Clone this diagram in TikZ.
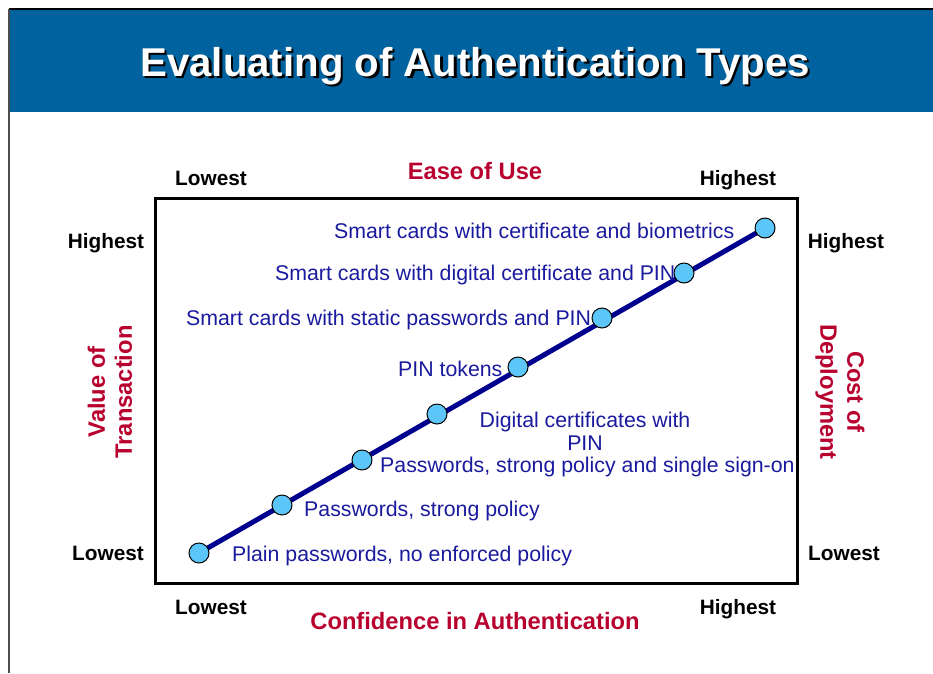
\documentclass[tikz,border=0pt]{standalone}
\usepackage{fontspec}
\setmainfont{Liberation Sans}
\definecolor{headblue}{HTML}{00629E}
\definecolor{axisred}{HTML}{B8002E}
\definecolor{itemblue}{HTML}{1A1A9E}
\definecolor{linenavy}{HTML}{00008F}
\definecolor{dotblue}{HTML}{5CC6F8}
\newcommand{\shadowtext}[1]{\makebox[0pt][l]{\hspace{2.5pt}\raisebox{-2.5pt}{\color{black}#1}}#1}
\tikzset{
  item/.style={anchor=west, inner sep=0pt, text=itemblue, font=\fontsize{21.3}{23}\selectfont},
  axis/.style={inner sep=0pt, text=axisred, font=\fontsize{23.7}{27}\selectfont\bfseries, align=center},
  level/.style={anchor=base, inner sep=0pt, font=\fontsize{20.8}{24}\selectfont\bfseries},
  dot/.style={circle, draw=black, line width=1pt, fill=dotblue, minimum size=20pt, inner sep=0pt},
  trend/.style={draw=linenavy, line width=5pt},
  frame/.style={draw=black, line width=3pt}
}
\begin{document}
\begin{tikzpicture}[x=1pt,y=-1pt]
\useasboundingbox (0,0) rectangle (933,673);
% header band and page edges
\fill[headblue] (9,9) rectangle (933,112);
\draw[black, line width=1.2pt] (9,9) -- (933,9);
\draw[black!70, line width=1.5pt] (9,9) -- (9,673);
\node[anchor=base, inner sep=0pt, text=white, font=\fontsize{40.2}{44}\selectfont\bfseries] (title) at (475,76) {\shadowtext{Evaluating of Authentication Types}};
% chart frame
\draw[frame] (155,198) rectangle (797,583);
% axis titles
\node[axis] (ease) at (475,171) {Ease of Use};
\node[axis] (conf) at (475,621) {Confidence in Authentication};
\node[axis, rotate=90] (value) at (110,392) {Value of\\Transaction};
\node[axis, rotate=-90] (cost) at (840,392) {Cost of\\Deployment};
% scale ends
\node[level] (tl) at (211,185.5) {Lowest};
\node[level] (tr) at (738,185.5) {Highest};
\node[level] (lh) at (106,248.5) {Highest};
\node[level] (ll) at (108,560.5) {Lowest};
\node[level] (rh) at (846,248.5) {Highest};
\node[level] (rl) at (844,560.5) {Lowest};
\node[level] (bl) at (211,614.5) {Lowest};
\node[level] (br) at (738,614.5) {Highest};
% trend line through the authentication types
\coordinate (p1) at (199,553);
\coordinate (p2) at (282,505);
\coordinate (p3) at (362,460);
\coordinate (p4) at (437,414);
\coordinate (p5) at (518,367);
\coordinate (p6) at (602,318);
\coordinate (p7) at (684,273);
\coordinate (p8) at (765,228);
\draw[trend] (p1) -- (p8);
\foreach \i in {1,...,8} \node[dot] (d\i) at (p\i) {};
% item labels
\node[item] (t1) at (232,556) {Plain passwords, no enforced policy};
\node[item] (t2) at (304,511) {Passwords, strong policy};
\node[item] (t3) at (380,467) {Passwords, strong policy and single sign-on};
\node[item, anchor=center, align=center] (t4) at (585,431) {Digital certificates with\\PIN};
\node[item] (t5) at (398,369) {PIN tokens};
\node[item] (t6) at (186,320) {Smart cards with static passwords and PIN};
\node[item] (t7) at (275,275) {Smart cards with digital certificate and PIN};
\node[item] (t8) at (334,231) {Smart cards with certificate and biometrics};
\end{tikzpicture}
\end{document}
